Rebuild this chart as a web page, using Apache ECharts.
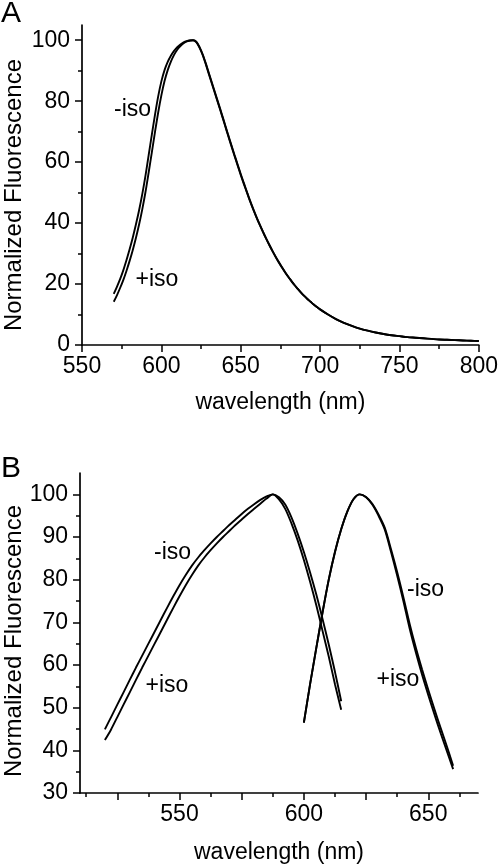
<!DOCTYPE html>
<html><head><meta charset="utf-8">
<script src="https://cdn.jsdelivr.net/npm/echarts@6/dist/echarts.min.js"></script>
<style>html,body{margin:0;padding:0;background:#fff}#c{width:501px;height:867px}</style>
</head><body><div id="c"></div>
<script>
// ---------- Panel A: emission spectra ----------
const waveA = [570,572,574,576,578,580,582,584,586,588,590,592,594,596,598,600,602,604,606,608,
  610,612,614,616,618,620,622,624,626,628,630,632,634,636,638,640,642,644,646,648,
  650,652,654,656,658,660,662,664,666,668,670,672,674,676,678,680,682,684,686,688,
  690,692,694,696,698,700,705,710,715,720,725,730,735,740,745,750,755,760,765,770,775,780,785,790,795,800];
const aMinusIso = [16.8,19.1,21.6,24.5,27.8,31.4,35.3,39.6,44.3,49.6,55.6,62.3,69.0,75.6,81.6,86.5,90.2,92.9,94.9,96.5,
  97.7,98.6,99.3,99.7,99.9,100,99.4,97.6,95.2,92.1,88.8,85.5,82.2,78.9,75.6,72.2,68.8,65.5,62.2,59.0,
  55.8,52.8,49.9,47.0,44.3,41.8,39.4,37.1,34.9,32.8,30.8,28.9,27.1,25.4,23.8,22.3,20.9,19.6,18.4,17.2,
  16.1,15.1,14.2,13.3,12.5,11.7,10.0,8.5,7.3,6.3,5.4,4.7,4.1,3.6,3.2,2.9,2.6,2.4,2.2,2.0,1.8,1.7,1.6,1.5,1.4,1.3];
const aPlusIso = [14.2,16.3,18.7,21.3,24.3,27.6,31.2,35.2,39.6,44.6,50.2,56.6,63.2,69.9,76.3,81.9,86.6,90.2,93.0,95.2,
  96.9,98.1,99.0,99.6,99.9,100,99.5,97.8,95.4,92.4,89.1,85.8,82.5,79.2,75.9,72.5,69.1,65.8,62.5,59.3,
  56.1,53.1,50.1,47.2,44.5,41.9,39.5,37.2,35.0,32.9,30.9,29.0,27.2,25.5,23.9,22.4,21.0,19.6,18.4,17.2,
  16.1,15.1,14.2,13.3,12.5,11.7,10.0,8.5,7.3,6.3,5.4,4.7,4.1,3.6,3.2,2.9,2.6,2.4,2.2,2.0,1.8,1.7,1.6,1.5,1.4,1.3];

// ---------- Panel B: excitation (left) and emission (right) ----------
const waveBExc = [520,522.5,525,527.5,530,532.5,535,537.5,540,542.5,545,547.5,550,552.5,555,557.5,560,562.5,565,567.5,
  570,572.5,575,577.5,580,582.5,585,587.5,590,592.5,595,597.5,600,602.5,605,607.5,610,612.5,615];
const bExcMinusIso = [44.9,47.8,50.7,53.6,56.5,59.4,62.2,65.0,67.8,70.6,73.4,76.1,78.7,81.1,83.3,85.2,86.9,88.5,90.0,91.4,
  92.8,94.1,95.4,96.6,97.7,98.7,99.5,100,98.8,96.6,93.2,89.2,84.6,79.5,74.0,68.0,62.0,55.5,49.5];
const bExcPlusIso = [42.4,44.9,47.8,50.7,53.6,56.5,59.4,62.2,65.0,67.8,70.6,73.4,76.1,78.7,81.1,83.3,85.2,86.9,88.5,90.0,
  91.4,92.8,94.1,95.4,96.6,97.8,99.0,100,99.3,97.6,94.6,90.8,86.5,81.7,76.5,70.8,64.8,58.4,51.5];
const waveBEm = [600,602.5,605,607.5,610,612.5,615,617.5,620,622.5,625,627.5,630,632.5,635,637.5,640,642.5,645,647.5,650,652.5,655,657.5,660];
const bEmMinusIso = [46.5,55.5,64.0,72.3,80.0,86.5,91.8,96.0,98.9,100,99.3,97.6,95.0,91.8,86.6,81.0,75.0,68.6,63.0,57.8,53.0,48.4,44.0,39.8,35.6];
const bEmPlusIso = [46.5,55.5,64.0,72.3,80.0,86.5,91.8,96.0,98.9,100,99.4,97.8,95.3,92.2,87.2,81.8,75.9,69.7,64.1,59.0,54.2,49.6,45.2,40.9,36.4];

// ---------- ticks ----------
const ticksAX = [550,600,650,700,750,800];
const minorAX = [575,625,675,725,775];
const ticksAY = [0,20,40,60,80,100];
const minorAY = [10,30,50,70,90];
const labelsBX = [550,600,650];
const ticksBX = [525,550,575,600,625,650];
const minorBX = [512.5,537.5,562.5,587.5,612.5,637.5,662.5];
const ticksBY = [30,40,50,60,70,80,90,100];
const minorBY = [35,45,55,65,75,85,95];

const FONT = '"Liberation Sans", Arial, Helvetica, sans-serif';
const zip = (xs, ys) => xs.map((x, i) => [x, ys[i]]);
const axLine = {show: true, onZero: false, lineStyle: {color: '#000', width: 1.7}};

function mainX(grid, min, max, labels, ticks, name, gap) {
  return {type: 'value', gridIndex: grid, min, max, position: 'bottom',
    axisLine: axLine, splitLine: {show: false},
    axisTick: {show: true, inside: false, length: 7, lineStyle: {color: '#000', width: 1.5}, customValues: ticks},
    axisLabel: {show: true, margin: 10, color: '#000', fontSize: 23, fontFamily: FONT, customValues: labels},
    name, nameLocation: 'middle', nameGap: gap,
    nameTextStyle: {color: '#000', fontSize: 23, fontFamily: FONT}};
}
function minorX(grid, min, max, ticks) {
  return {type: 'value', gridIndex: grid, min, max, position: 'bottom',
    axisLine: {show: false, onZero: false}, splitLine: {show: false}, axisLabel: {show: false},
    axisTick: {show: true, inside: false, length: 4, lineStyle: {color: '#000', width: 1.5}, customValues: ticks}};
}
function mainY(grid, min, max, ticks) {
  return {type: 'value', gridIndex: grid, min, max, position: 'left',
    axisLine: axLine, splitLine: {show: false},
    axisTick: {show: true, inside: false, length: 7, lineStyle: {color: '#000', width: 1.5}, customValues: ticks},
    axisLabel: {show: true, margin: 12, color: '#000', fontSize: 23, fontFamily: FONT, customValues: ticks}};
}
function minorY(grid, min, max, ticks) {
  return {type: 'value', gridIndex: grid, min, max, position: 'left',
    axisLine: {show: false, onZero: false}, splitLine: {show: false}, axisLabel: {show: false},
    axisTick: {show: true, inside: false, length: 4, lineStyle: {color: '#000', width: 1.5}, customValues: ticks}};
}
function line(name, data, xi, yi) {
  return {type: 'line', name, data, xAxisIndex: xi, yAxisIndex: yi, showSymbol: false, symbol: 'none',
    smooth: 0.3, lineStyle: {color: '#000', width: 1.9}, silent: true};
}
function txt(text, x, y, size) {
  return {type: 'text', x, y, silent: true,
    style: {text, fill: '#000', font: (size || 23) + 'px ' + FONT, align: 'left', verticalAlign: 'middle'}};
}
function ytitle(x, y) {
  return {type: 'text', x, y, rotation: Math.PI / 2, silent: true,
    style: {text: 'Normalized Fluorescence', fill: '#000', font: '24px ' + FONT, align: 'center', verticalAlign: 'middle'}};
}

const chart = echarts.init(document.getElementById('c'), null, {renderer: 'canvas'});
chart.setOption({
  animation: false,
  backgroundColor: '#fff',
  grid: [
    {left: 82, top: 25, width: 398, height: 320},
    {left: 80, top: 473, width: 398, height: 320}
  ],
  xAxis: [
    mainX(0, 550, 800, ticksAX, ticksAX, 'wavelength (nm)', 46),
    minorX(0, 550, 800, minorAX),
    mainX(1, 510, 670, labelsBX, ticksBX, 'wavelength (nm)', 48),
    minorX(1, 510, 670, minorBX)
  ],
  yAxis: [
    mainY(0, 0, 105, ticksAY),
    minorY(0, 0, 105, minorAY),
    mainY(1, 30, 105, ticksBY),
    minorY(1, 30, 105, minorBY)
  ],
  series: [
    line('A -iso', zip(waveA, aMinusIso), 0, 0),
    line('A +iso', zip(waveA, aPlusIso), 0, 0),
    line('B exc -iso', zip(waveBExc, bExcMinusIso), 2, 2),
    line('B exc +iso', zip(waveBExc, bExcPlusIso), 2, 2),
    line('B em -iso', zip(waveBEm, bEmMinusIso), 2, 2),
    line('B em +iso', zip(waveBEm, bEmPlusIso), 2, 2)
  ],
  graphic: [
    txt('A', 1, 14, 30),
    txt('B', 1, 469, 30),
    ytitle(14, 195),
    ytitle(14, 641),
    txt('-iso', 114, 110),
    txt('+iso', 135.5, 280),
    txt('-iso', 154, 553),
    txt('+iso', 145.5, 686),
    txt('-iso', 407, 590),
    txt('+iso', 376.5, 680)
  ]
});
</script>
</body></html>
